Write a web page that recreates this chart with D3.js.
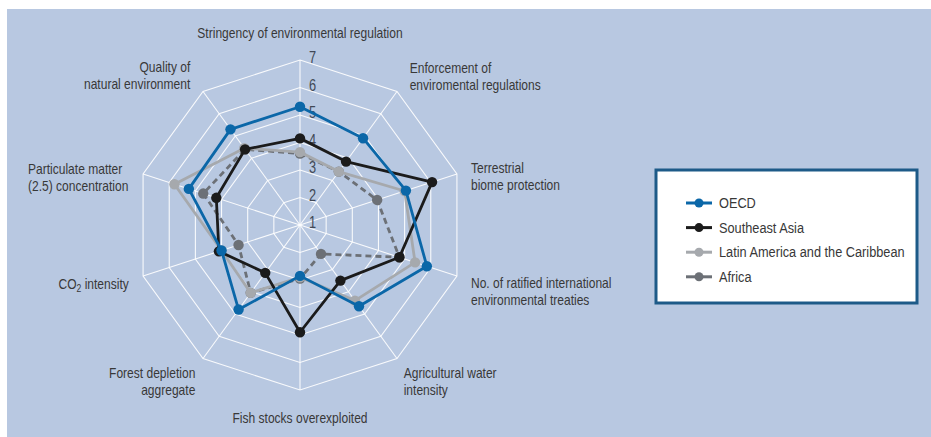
<!DOCTYPE html>
<html><head><meta charset="utf-8">
<script src="https://cdn.jsdelivr.net/npm/d3@7/dist/d3.min.js"></script>
<style>
html,body{margin:0;padding:0;background:#fff;}
svg{display:block;}
text{font-family:"Liberation Sans",Arial,sans-serif;}
</style></head>
<body>
<svg id="chart" width="931" height="437"></svg>
<script>
// ---- data ----
const categories = [
  ["Stringency of environmental regulation"],
  ["Enforcement of", "enviromental regulations"],
  ["Terrestrial", "biome protection"],
  ["No. of ratified international", "environmental treaties"],
  ["Agricultural water", "intensity"],
  ["Fish stocks overexploited"],
  ["Forest depletion", "aggregate"],
  ["CO2 intensity"],
  ["Particulate matter", "(2.5) concentration"],
  ["Quality of", "natural environment"]
];
const seriesNames = ["OECD", "Southeast Asia", "Latin America and the Caribbean", "Africa"];
const oecd      = [5.3, 4.9, 5.05, 5.85, 4.65, 2.85, 4.8, 4.0, 5.25, 5.3];
const seAsia    = [4.15, 3.85, 6.05, 4.8, 3.5, 4.9, 3.15, 4.1, 4.2, 4.4];
const latAm     = [3.65, 3.4, 5.0, 5.4, 4.4, 2.9, 4.05, 4.0, 5.8, 4.45];
const africa    = [3.6, 3.4, 3.95, 4.8, 2.3, 2.95, 4.05, 3.35, 4.7, 4.4];
const tickLabels = [1, 2, 3, 4, 5, 6, 7];

// ---- styles ----
const colors = {"OECD":"#0b67a8","Southeast Asia":"#1b1b1b","Latin America and the Caribbean":"#a6a9ad","Africa":"#6c7076"};
const dashes = {"Africa":"6,4"};
const seriesData = {"OECD":oecd,"Southeast Asia":seAsia,"Latin America and the Caribbean":latAm,"Africa":africa};
const NARROW = 0.86;

const svg = d3.select("#chart");
svg.append("rect").attr("x",7).attr("y",9).attr("width",931-7).attr("height",437-9).attr("fill","#b8c8e1");

const cx = 300, cy = 225;
const r = d3.scaleLinear().domain([1,7]).range([0,165]);
const n = categories.length;
const ang = i => i * 2 * Math.PI / n;
const px = (i, v) => cx + r(v) * Math.sin(ang(i));
const py = (i, v) => cy - r(v) * Math.cos(ang(i));

const g = svg.append("g");
// grid rings
tickLabels.slice(1).forEach(t => {
  g.append("polygon")
    .attr("points", d3.range(n).map(i => [px(i,t), py(i,t)].join(",")).join(" "))
    .attr("fill","none").attr("stroke","#ffffff").attr("stroke-width",1.1).attr("stroke-opacity",0.9);
});
// spokes
d3.range(n).forEach(i => {
  g.append("line").attr("x1",cx).attr("y1",cy).attr("x2",px(i,7)).attr("y2",py(i,7))
    .attr("stroke","#ffffff").attr("stroke-width",1.1).attr("stroke-opacity",0.9);
});
// tick labels
tickLabels.forEach(t => {
  g.append("text").attr("transform", `translate(${cx + 9},${cy - r(t) + 3}) scale(0.8,1)`)
    .attr("font-size",16).attr("fill","#414856").text(t);
});

// series (drawn back to front)
const order = ["Africa","Latin America and the Caribbean","Southeast Asia","OECD"];
const line = d3.line().curve(d3.curveLinearClosed);
order.forEach(name => {
  const vals = seriesData[name];
  const pts = vals.map((v,i) => [px(i,v), py(i,v)]);
  const sg = g.append("g");
  sg.append("path").attr("d", line(pts)).attr("fill","none")
    .attr("stroke", colors[name]).attr("stroke-width", 2.8)
    .attr("stroke-dasharray", dashes[name] || null).attr("stroke-linejoin","round");
  sg.selectAll("circle").data(pts).enter().append("circle")
    .attr("cx", d => d[0]).attr("cy", d => d[1]).attr("r", 5.2).attr("fill", colors[name]);
});

// category labels
const labelLayout = [
  {rad:196, anchor:"middle", dx:0,   dy:9},
  {rad:190, anchor:"start",  dx:-2,  dy:2},
  {rad:184, anchor:"start",  dx:-4,  dy:5},
  {rad:184, anchor:"start",  dx:-4,  dy:6},
  {rad:190, anchor:"start",  dx:-8,  dy:-1},
  {rad:193, anchor:"middle", dx:0,   dy:5},
  {rad:190, anchor:"end",    dx:7,   dy:-1},
  {rad:180, anchor:"end",    dx:0,   dy:8},
  {rad:184, anchor:"start",  dx:-97, dy:6},
  {rad:190, anchor:"end",    dx:2,   dy:1}
];
categories.forEach((lines, i) => {
  const L = labelLayout[i];
  const x = cx + L.rad * Math.sin(ang(i)) + L.dx;
  const y = cy - L.rad * Math.cos(ang(i)) + L.dy;
  const t = g.append("text").attr("font-size",14).attr("fill","#383838")
    .attr("text-anchor", L.anchor)
    .attr("transform", `translate(${x},${y}) scale(${NARROW},1)`);
  lines.forEach((ln, k) => {
    const ts = t.append("tspan").attr("x", 0).attr("y", k*17);
    if (ln === "CO2 intensity") {
      ts.append("tspan").text("CO");
      ts.append("tspan").attr("font-size",10).attr("dy",3).text("2");
      ts.append("tspan").attr("dy",-3).text(" intensity");
    } else ts.text(ln);
  });
});

// legend
const lg = svg.append("g");
lg.append("rect").attr("x",656).attr("y",170).attr("width",261).attr("height",133)
  .attr("fill","#ffffff").attr("stroke","#1d5a88").attr("stroke-width",3);
seriesNames.forEach((name, k) => {
  const y = 203 + k*24.6;
  lg.append("line").attr("x1",686).attr("x2",712).attr("y1",y).attr("y2",y)
    .attr("stroke",colors[name]).attr("stroke-width",3);
  lg.append("circle").attr("cx",699).attr("cy",y).attr("r",4.5).attr("fill",colors[name]);
  lg.append("text").attr("transform", `translate(719,${y+5}) scale(0.88,1)`)
    .attr("font-size",14.5).attr("fill","#383838").text(name);
});
</script>
</body></html>
